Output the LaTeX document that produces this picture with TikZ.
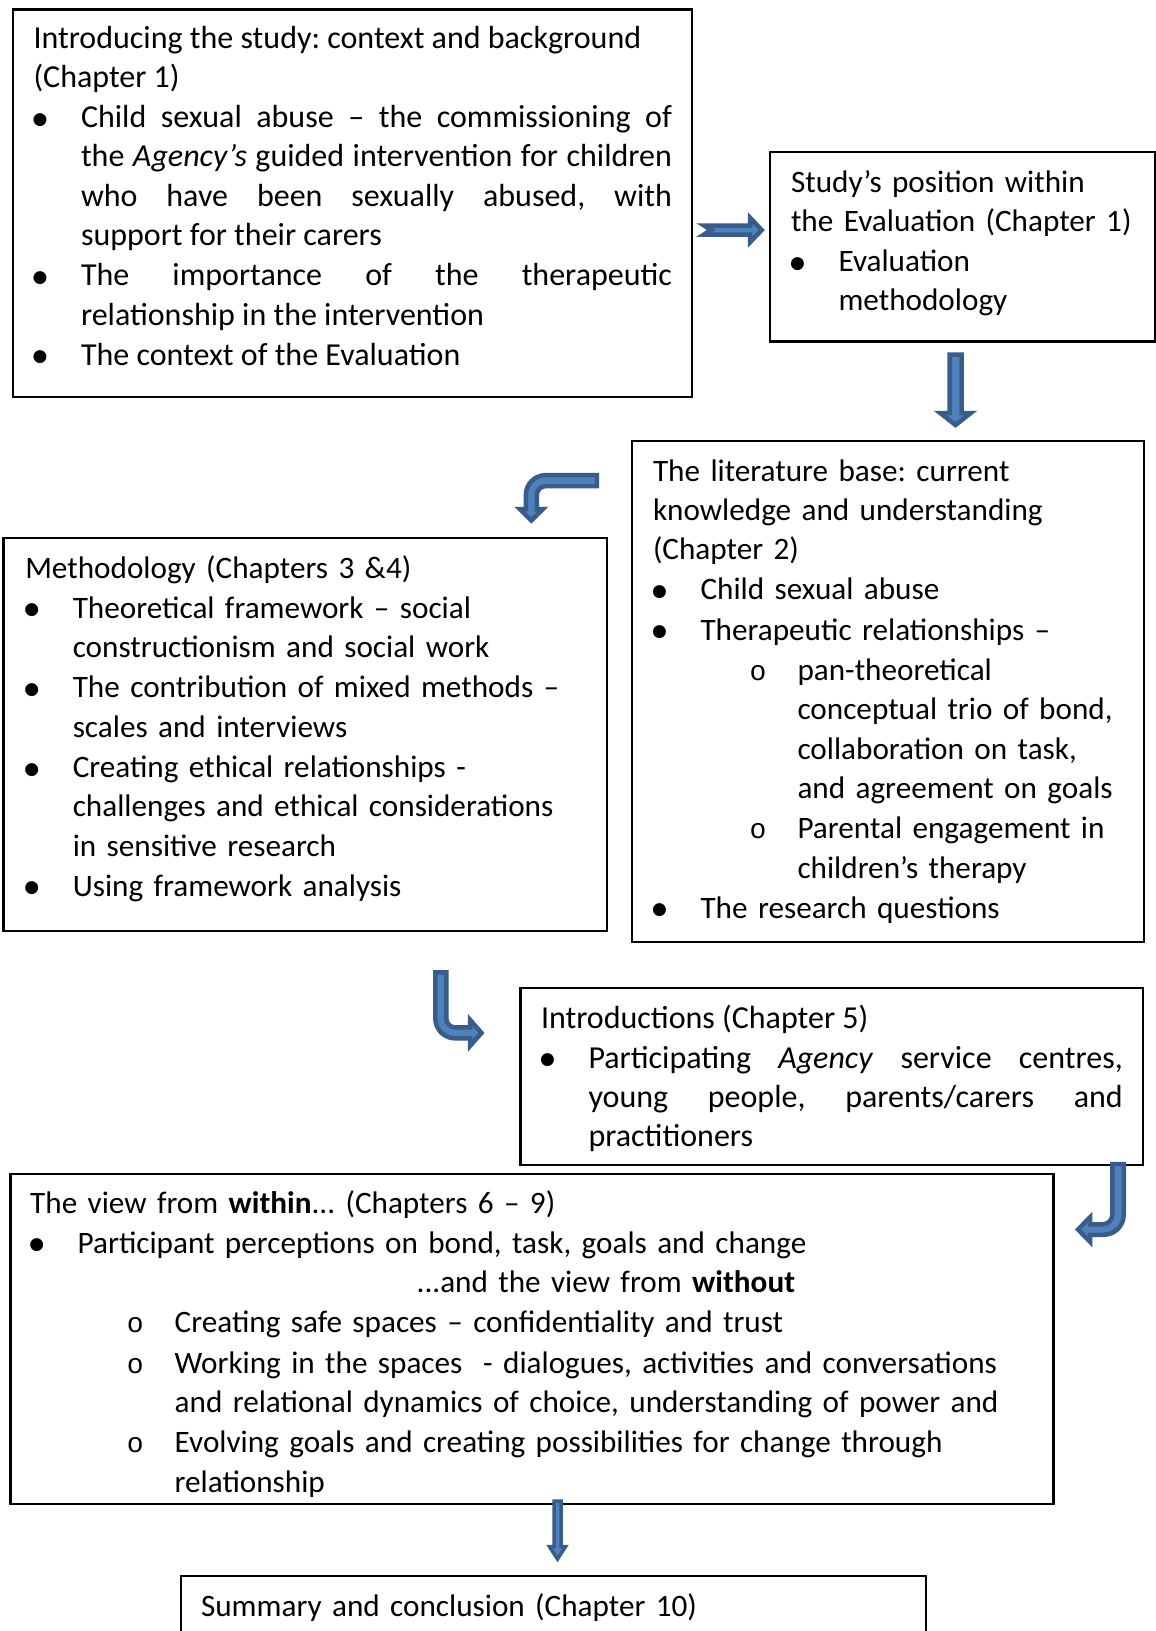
\documentclass[tikz,border=0pt]{standalone}
\usepackage{fontspec}
\setmainfont{Carlito}
\newfontfamily\dotfont{DejaVu Sans}
\newfontfamily\ringfont{Liberation Mono}

\definecolor{arrowfill}{HTML}{4F81BD}
\definecolor{arrowline}{HTML}{385D8A}

% body text with Calibri-like line pitch
\newcommand{\bodysize}{\fontsize{32}{39.3}\selectfont\frenchspacing}
\newcommand{\narrowsize}{\fontsize{31.2}{39.3}\selectfont\frenchspacing}
% list markers
\newcommand{\bul}{\makebox[13pt][c]{\raisebox{3.5pt}{\dotfont\fontsize{17}{17}\selectfont ●}}}
\newcommand{\ring}{\makebox[19.2pt][c]{\ringfont\fontsize{28}{28}\selectfont o}}
% hanging list item: marker offset, text indent, marker
\newcommand{\itm}[3]{\par\noindent\hangindent=#2\hangafter=1\hspace*{#1}\makebox[\dimexpr#2-#1\relax][l]{#3}\ignorespaces}
\newcommand{\bitem}{\itm{0pt}{47.5pt}{\bul}}
\newcommand{\ritem}{\itm{95.4pt}{144.5pt}{\ring}}

\tikzset{
  frame/.style={draw=black, line width=2.2pt, rectangle, inner sep=0pt, outer sep=0pt},
  txt/.style={anchor=north west, inner sep=0pt, outer sep=0pt, text width=#1,
    align=left, font=\narrowsize,
    execute at begin node={\parskip=1pt\parindent=0pt}},
  jtxt/.style={txt=#1, align=justify, font=\bodysize},
  blockarrow/.style={fill=arrowfill, draw=arrowline, line width=4.5pt, line join=miter}
}

\begin{document}
\begin{tikzpicture}[x=1pt, y=-1pt]
\useasboundingbox (0,0) rectangle (1156,1631);
\clip (0,0) rectangle (1156,1631);
\fill[white] (0,0) rectangle (1156,1631);

% ---- boxes ----
\node[frame, minimum width=679pt,   minimum height=387.5pt] (b1) at (352.5,203.25) {};
\node[frame, minimum width=385pt,   minimum height=189.5pt] (b2) at (962.5,246.75) {};
\node[frame, minimum width=512pt,   minimum height=501pt]   (b3) at (888,691.5) {};
\node[frame, minimum width=603.5pt, minimum height=393pt]   (b4) at (305.25,734.5) {};
\node[frame, minimum width=622.5pt, minimum height=177pt]   (b5) at (831.75,1076.5) {};
\node[frame, minimum width=1043pt,  minimum height=330pt]   (b6) at (532,1339) {};
\node[frame, minimum width=745pt,   minimum height=104pt]   (b7) at (553.5,1628) {};

% ---- box texts ----
\node[jtxt=638.5pt] (t1) at (33.5,20.5) {\strut Introducing the study: context and background\newline(Chapter 1)
\bitem Child sexual abuse – the commissioning of\linebreak the \textit{Agency’s} guided intervention for children\linebreak who have been sexually abused, with\linebreak support for their carers
\bitem The importance of the therapeutic\linebreak relationship in the intervention
\bitem The context of the Evaluation\par};

\node[txt=355pt] (t2) at (791,164.5) {\strut Study’s position within\newline the Evaluation (Chapter 1)
\bitem Evaluation\newline methodology\par};

\node[txt=485pt] (t3) at (653,453.5) {\strut The literature base: current\newline knowledge and understanding\newline (Chapter 2)
\bitem Child sexual abuse
\bitem Therapeutic relationships –
\ritem pan-theoretical\newline conceptual trio of bond,\newline collaboration on task,\newline and agreement on goals
\ritem Parental engagement in\newline children’s therapy
\bitem The research questions\par};

\node[txt=570pt] (t4) at (25.3,550.5) {\strut Methodology (Chapters 3 \&4)
\bitem Theoretical framework – social\newline constructionism and social work
\bitem The contribution of mixed methods –\newline scales and interviews
\bitem Creating ethical relationships -\newline challenges and ethical considerations\newline in sensitive research
\bitem Using framework analysis\par};

\node[jtxt=581.7pt] (t5) at (541,1000.5) {\strut Introductions (Chapter 5)
\bitem Participating \textit{Agency} service centres,\linebreak young people, parents/carers and\linebreak practitioners\par};

\node[txt=1010pt] (t6) at (30.2,1185.5) {\strut The view from \textbf{within}... (Chapters 6 – 9)
\bitem Participant perceptions on bond, task, goals and change\newline\hspace*{339pt}...and the view from \textbf{without}
\ritem Creating safe spaces – confidentiality and trust
\ritem Working in the spaces\ \ - dialogues, activities and conversations\newline and relational dynamics of choice, understanding of power and
\ritem Evolving goals and creating possibilities for change through\newline relationship\par};

\node[txt=700pt] (t7) at (201,1588.5) {\strut Summary and conclusion (Chapter 10)\par};

% ---- block arrows ----
% b1 -> b2 (notched right arrow)
\draw[blockarrow] (704,225.5) -- (711,230) -- (704,234.5) -- (750,234.5) -- (750,242.3)
  -- (761.7,230) -- (750,217.7) -- (750,225.5) -- cycle;
% b2 -> b3 (down arrow)
\draw[blockarrow] (949.5,354.5) -- (961.5,354.5) -- (961.5,413) -- (970.8,413)
  -- (955.5,425) -- (940.2,413) -- (949.5,413) -- cycle;
% b3 -> b4 (bent arrow, left then down)
\draw[blockarrow] (596.75,475.1) -- (545.8,475.1)
  .. controls (534.75,475.1) and (525.8,484.05) .. (525.8,495.1)
  -- (525.8,509) -- (519.7,509) -- (531.3,520.5) -- (542.9,509) -- (536.8,509) -- (536.8,495.1)
  .. controls (536.8,490.13) and (540.83,486.1) .. (545.8,486.1) -- (596.75,486.1) -- cycle;
% b4 -> b5 (bent arrow, down then right)
\draw[blockarrow] (435.3,972.25) -- (435.3,1018.4)
  .. controls (435.3,1029.45) and (444.25,1038.4) .. (455.3,1038.4)
  -- (470,1038.4) -- (470,1046) -- (481.5,1032.9) -- (470,1019.8) -- (470,1027.4) -- (455.3,1027.4)
  .. controls (450.33,1027.4) and (446.3,1023.37) .. (446.3,1018.4) -- (446.3,972.25) -- cycle;
% b5 -> b6 (bent arrow, down then left)
\draw[blockarrow] (1112.25,1164) -- (1123.75,1164) -- (1123.75,1214.75)
  .. controls (1123.75,1225.8) and (1114.8,1234.75) .. (1103.75,1234.75)
  -- (1090,1234.75) -- (1090,1241.75) -- (1078,1229.5) -- (1090,1217.25) -- (1090,1224.25) -- (1102.75,1224.25)
  .. controls (1108,1224.25) and (1112.25,1220) .. (1112.25,1214.75) -- cycle;
% b6 -> b7 (down arrow)
\draw[blockarrow, line width=3.5pt] (554,1501) -- (561,1501) -- (561,1546.7) -- (565.5,1546.7)
  -- (557.5,1559) -- (549.5,1546.7) -- (554,1546.7) -- cycle;
\end{tikzpicture}
\end{document}
